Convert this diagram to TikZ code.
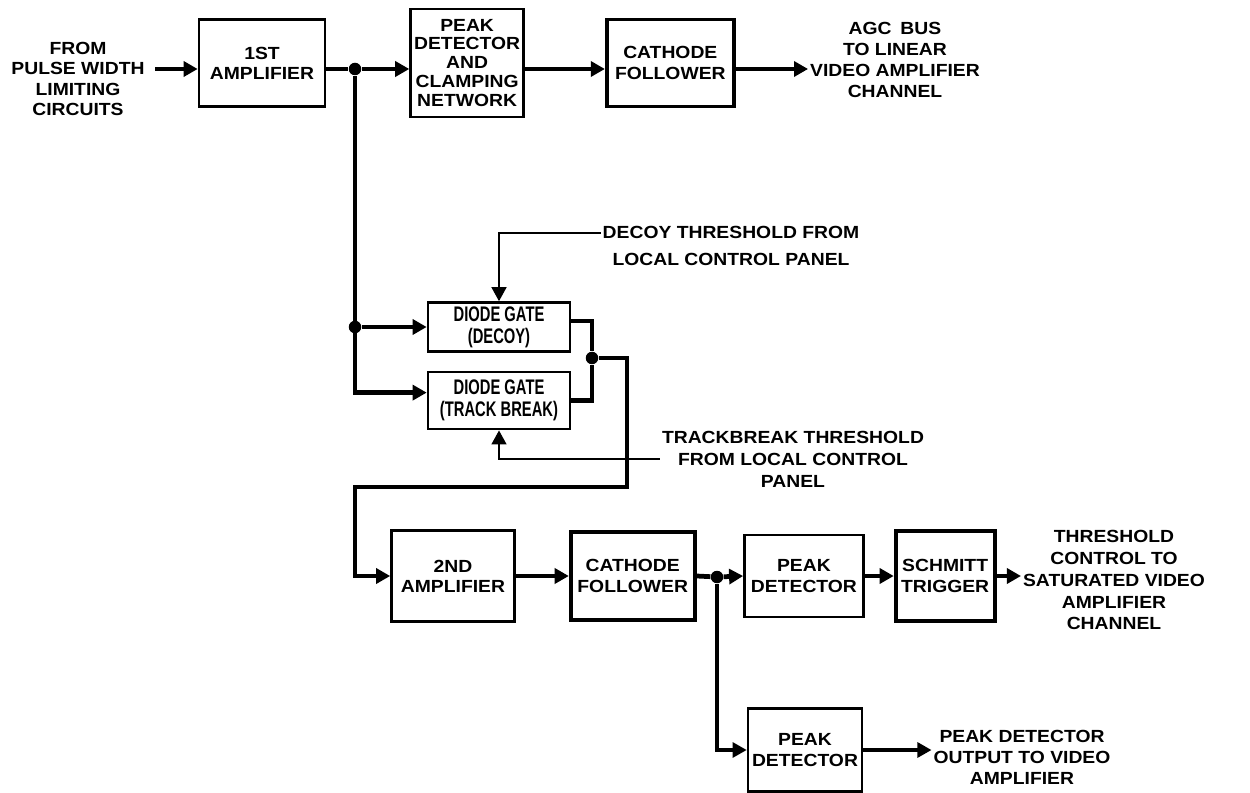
\documentclass[tikz,border=0pt]{standalone}
\usepackage{fontspec}
\setmainfont{Liberation Sans}[FakeStretch=1.1]
\newfontfamily\gatefont{Liberation Sans}[FakeStretch=0.7]
\usetikzlibrary{positioning, calc, arrows.meta}

\begin{document}
\begin{tikzpicture}[
    x=0.02cm, y=-0.02cm,
    >={Triangle[length=8pt,width=8.5pt]},
    font=\fontsize{10}{11.5}\selectfont\bfseries,
    block/.style={
        draw,
        line width=1.5pt,
        align=center,
        inner sep=2pt
    },
    heavy/.style={block, line width=2.2pt},
    gate/.style={block, font=\gatefont\fontsize{12}{12.5}\selectfont\bfseries},
    caption/.style={align=center, inner sep=1pt},
    bus/.style={line width=2.7pt},
    feed/.style={line width=1.8pt},
    wire/.style={line width=1.1pt},
    dot/.style={circle, fill, inner sep=0pt, minimum size=0.25cm}
]
\useasboundingbox (0,0) rectangle (1250,793);
\coordinate (R1) at (0,69);

% First row
\node[caption] (In) at (78,79) {FROM\\PULSE WIDTH\\LIMITING\\CIRCUITS};
\node[block, minimum width=2.52cm, minimum height=1.74cm] (A1) at (262,63) {1ST\\AMPLIFIER};
\node[block, minimum width=2.26cm, minimum height=2.16cm, font=\fontsize{10}{10.8}\selectfont\bfseries, right=1.66cm of A1] (PDC) {PEAK\\DETECTOR\\AND\\CLAMPING\\NETWORK};
\node[heavy, minimum width=2.54cm, minimum height=1.74cm, right=1.6cm of PDC] (CF1) {CATHODE\\FOLLOWER};
\node[caption, font=\fontsize{10}{12}\selectfont\bfseries] (AGC) at (895,60) {AGC\enspace BUS\\TO LINEAR\\VIDEO AMPLIFIER\\CHANNEL};
\node[dot] (J1) at (355,69) {};

% Diode gates
\node[gate, minimum width=2.84cm, minimum height=0.98cm] (DGD) at (499,327) {DIODE GATE\\(DECOY)};
\node[gate, minimum width=2.84cm, minimum height=1.14cm, below=0.36cm of DGD] (DGT) {DIODE GATE\\(TRACK BREAK)};
\node[caption, font=\fontsize{10}{15}\selectfont\bfseries] (DT) at (731,246) {DECOY THRESHOLD FROM\\LOCAL CONTROL PANEL};
\node[caption, font=\fontsize{10}{12.5}\selectfont\bfseries] (TT) at (793,459) {TRACKBREAK THRESHOLD\\FROM LOCAL CONTROL\\PANEL};
\node[dot] (J2) at (J1 |- DGD.west) {};
\node[dot] (J3) at (592,358) {};

% Second row
\node[block, minimum width=2.46cm, minimum height=1.82cm] (A2) at (453,576) {2ND\\AMPLIFIER};
\node[heavy, minimum width=2.48cm, minimum height=1.76cm, right=1.06cm of A2] (CF2) {CATHODE\\FOLLOWER};
\node[block, minimum width=2.38cm, minimum height=1.64cm, right=0.93cm of CF2] (PD1) {PEAK\\DETECTOR};
\node[heavy, minimum width=1.98cm, minimum height=1.8cm, right=0.58cm of PD1] (ST) {SCHMITT\\TRIGGER};
\node[caption, font=\fontsize{10}{12.5}\selectfont\bfseries] (Sat) at (1114,580) {THRESHOLD\\CONTROL TO\\SATURATED VIDEO\\AMPLIFIER\\CHANNEL};
\node[dot] (J4) at (717,577) {};
\node[block, minimum width=2.28cm, minimum height=1.66cm] (PD2) at (805,750) {PEAK\\DETECTOR};
\node[caption, font=\fontsize{10}{12}\selectfont\bfseries] (PDO) at (1022,757) {PEAK DETECTOR\\OUTPUT TO VIDEO\\AMPLIFIER};

% Edges
\draw[bus, ->, shorten <=5pt] (In.east |- R1) -- (A1.west |- R1);
\draw[bus] (A1.east |- R1) -- (J1);
\draw[bus, ->] (J1) -- (PDC.west |- R1);
\draw[bus, ->] (PDC.east |- R1) -- (CF1.west |- R1);
\draw[bus, ->] (CF1.east |- R1) -- (AGC.west |- R1);

\coordinate (TBin) at ($(DGT.west)+(0,-8)$);
\draw[bus, ->] (J1) |- (TBin);
\draw[bus, ->] (J2) -- (DGD.west);
\draw[bus] ($(DGD.east)+(0,-6)$) -| (J3) |- (DGT.east);
\draw[bus, ->] (J3) -- ++(35,0) -- ++(0,129) -| (J1 |- A2.west) -- (A2.west);

\coordinate (DTin) at ($(DT.west)+(0,-13)$);
\draw[wire, ->] (DTin) -| (DGD.north);
\draw[wire, ->] (TT.west) -| (DGT.south);

\draw[bus, ->] (A2.east) -- (CF2.west);
\draw[bus] (CF2.east) -- (J4);
\draw[bus, ->] (J4) -- (PD1.west);
\draw[bus, ->] (PD1.east) -- (ST.west);
\draw[bus, ->] (ST.east) -- (Sat.west |- ST.east);
\draw[feed, ->] (J4) |- (PD2.west);
\draw[feed, ->] (PD2.east) -- (PDO.west |- PD2.east);

\end{tikzpicture}
\end{document}
